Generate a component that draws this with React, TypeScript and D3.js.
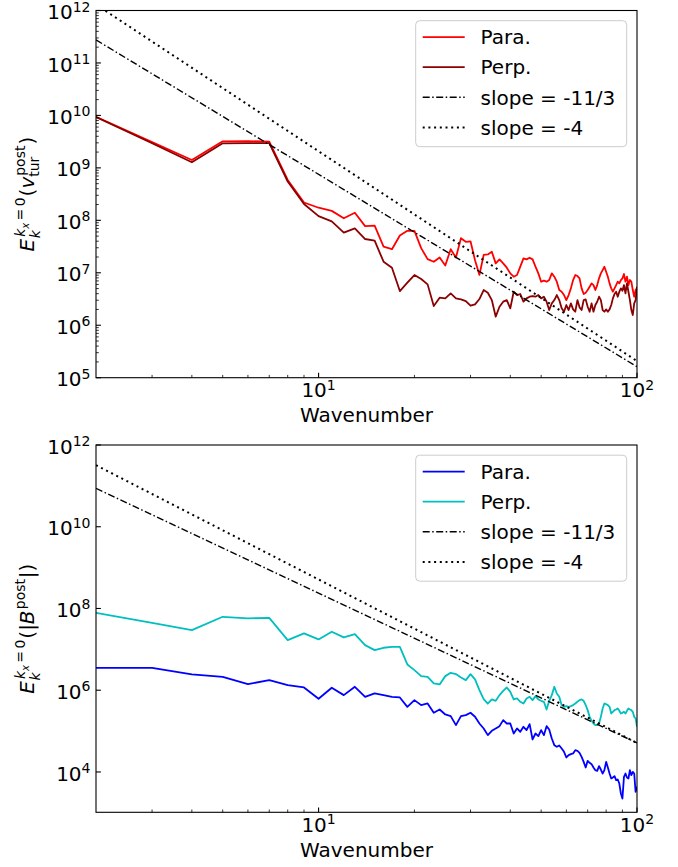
import React from "react";
import * as d3 from "d3";

// ---------------- data ----------------
const wavenumbers: number[] = d3.range(2, 101); // k = 2 .. 100

// log10 of E_k for the velocity spectra (top panel)
const velParaLog = [
  9.975, 9.49, 9.15, 9.506, 9.51, 9.5, 8.77, 8.34, 8.24, 8.18,
  8.04, 8.145, 7.89, 7.9, 7.5, 7.45, 7.71, 7.8, 7.8, 7.47,
  7.26, 7.21, 7.29, 7.14, 7.45, 7.29, 7.66, 7.59, 7.6, 7.24,
  6.96, 7.34, 7.35, 7.4, 7.18, 7.256, 7.18, 7.097, 6.989, 6.925,
  6.957, 7.116, 7.275, 7.256, 7.288, 7.256, 7.116, 6.989, 6.83, 6.849,
  6.83, 6.862, 6.989, 6.925, 6.83, 6.671, 6.639, 6.576, 6.48, 6.576,
  6.703, 6.862, 6.957, 6.938, 6.894, 6.703, 6.595, 6.62, 6.671, 6.735,
  6.798, 6.766, 6.671, 6.766, 6.894, 6.989, 7.052, 7.116, 7.02, 6.925,
  6.798, 6.703, 6.639, 6.703, 6.766, 6.83, 6.798, 6.862, 6.894, 6.976,
  6.83, 6.925, 6.766, 6.862, 6.83, 6.671, 6.544, 6.671, 6.703,
];
const velPerpLog = [
  9.97, 9.47, 9.106, 9.468, 9.47, 9.47, 8.74, 8.31, 8.08, 7.98,
  7.764, 7.847, 7.644, 7.612, 7.211, 7.097, 6.652, 6.811, 6.957, 6.881,
  6.779, 6.366, 6.525, 6.512, 6.608, 6.512, 6.493, 6.461, 6.372, 6.398,
  6.5, 6.671, 6.62, 6.48, 6.163, 6.353, 6.449, 6.48, 6.322, 6.639,
  6.576, 6.595, 6.449, 6.512, 6.544, 6.557, 6.544, 6.576, 6.512, 6.544,
  6.449, 6.29, 6.417, 6.48, 6.576, 6.48, 6.322, 6.258, 6.385, 6.29,
  6.417, 6.302, 6.258, 6.48, 6.341, 6.29, 6.48, 6.493, 6.353, 6.258,
  6.417, 6.258, 6.385, 6.449, 6.544, 6.48, 6.29, 6.258, 6.302, 6.258,
  6.302, 6.385, 6.512, 6.595, 6.639, 6.544, 6.639, 6.703, 6.658, 6.766,
  6.608, 6.798, 6.639, 6.48, 6.29, 6.195, 6.417, 6.48, 6.735,
];

// log10 of E_k for the magnetic spectra (bottom panel)
const magParaLog = [
  6.549, 6.549, 6.386, 6.328, 6.149, 6.247, 6.125, 6.068, 5.79, 6.06,
  5.88, 6.084, 5.839, 5.921, 5.88, 5.839, 5.823, 5.594, 5.758, 5.635,
  5.676, 5.448, 5.529, 5.407, 5.366, 5.146, 5.366, 5.39, 5.448, 5.35,
  5.186, 5.064, 4.901, 5.007, 5.064, 5.121, 5.268, 5.186, 5.186, 4.941,
  5.064, 4.982, 5.105, 5.023, 5.17, 4.795, 4.941, 4.876, 5.023, 4.901,
  5.121, 5.039, 4.819, 4.656, 4.615, 4.648, 4.574, 4.493, 4.354, 4.411,
  4.436, 4.452, 4.533, 4.517, 4.468, 4.37, 4.248, 4.109, 4.272, 4.223,
  4.191, 4.109, 4.044, 4.028, 4.142, 4.06, 3.962, 4.044, 4.248, 4.109,
  3.962, 3.84, 3.864, 3.897, 3.799, 3.815, 3.717, 3.473, 3.35, 3.881,
  3.962, 3.864, 3.84, 4.044, 3.921, 4.003, 3.962, 3.513, 3.636,
];
const magPerpLog = [
  7.895, 7.647, 7.471, 7.797, 7.757, 7.77, 7.226, 7.39, 7.243, 7.43,
  7.292, 7.373, 7.104, 6.982, 7.039, 7.063, 7.063, 6.631, 6.492, 6.345,
  6.329, 6.166, 6.141, 6.345, 6.427, 6.394, 6.313, 6.247, 6.394, 6.264,
  6.003, 5.78, 5.67, 5.774, 5.741, 5.88, 5.986, 6.067, 5.961, 5.774,
  5.798, 5.717, 5.676, 5.798, 5.839, 5.757, 5.855, 5.774, 5.741, 5.717,
  5.529, 5.741, 5.88, 6.084, 5.921, 5.839, 5.635, 5.594, 5.61, 5.594,
  5.61, 5.635, 5.676, 5.717, 5.757, 5.774, 5.741, 5.635, 5.513, 5.349,
  5.251, 5.186, 5.145, 5.145, 5.186, 5.349, 5.553, 5.676, 5.659, 5.635,
  5.594, 5.431, 5.472, 5.513, 5.529, 5.553, 5.496, 5.431, 5.447, 5.472,
  5.431, 5.496, 5.553, 5.529, 5.513, 5.472, 5.349, 5.309, 5.105,
];

// reference power laws
const slopeValues = [-11 / 3, -4];
const refK = [2, 100];
const velRefLogAt100 = [5.21, 5.317];
const magRefLogAt100 = [4.71, 4.71];

const legendLabels = ["Para.", "Perp.", "slope = -11/3", "slope = -4"];
const velColors = ["#ff0000", "#8b0000"];
const magColors = ["#0000ff", "#00bfbf"];

const xDomain = [2, 100];
const xMajorExps = [1, 2];
const velYDomain = [1e5, 1e12];
const magYDomain = [Math.pow(10, 3.013), 1e12];
const velYExps = [5, 6, 7, 8, 9, 10, 11, 12];
const magYExps = [4, 6, 8, 10, 12];

// ---------------- layout ----------------
const W = 678;
const H = 867;
const FONT = "'DejaVu Sans', sans-serif";
const F = 20;
const S = 14;
const SS = 10;
const LEFT = 96;
const RIGHT = 637;

type Piece = { t: string; x: number; dy: number; size: number; it?: boolean };

const velLabel: Piece[] = [
  { t: "E", x: 0, dy: 0, size: F, it: true },
  { t: "k", x: 13.1, dy: 5.5, size: S, it: true },
  { t: "k", x: 14.6, dy: -9, size: S, it: true },
  { t: "x", x: 22.7, dy: -5.5, size: SS, it: true },
  { t: "=", x: 31, dy: -9, size: S },
  { t: "0", x: 45.2, dy: -9, size: S },
  { t: "(", x: 55, dy: 0, size: F },
  { t: "v", x: 62.8, dy: 0, size: F, it: true },
  { t: "post", x: 75.6, dy: -9, size: S },
  { t: "tur", x: 74.6, dy: 5, size: S },
  { t: ")", x: 106.8, dy: 0, size: F },
];
const velLabelW = 114.6;

const magLabel: Piece[] = [
  { t: "E", x: 0, dy: 0, size: F, it: true },
  { t: "k", x: 13.1, dy: 5.5, size: S, it: true },
  { t: "k", x: 14.6, dy: -9, size: S, it: true },
  { t: "x", x: 22.7, dy: -5.5, size: SS, it: true },
  { t: "=", x: 31, dy: -9, size: S },
  { t: "0", x: 45.2, dy: -9, size: S },
  { t: "(", x: 55, dy: 0, size: F },
  { t: "|", x: 62.8, dy: 0, size: F },
  { t: "B", x: 69.5, dy: 0, size: F, it: true },
  { t: "post", x: 84.5, dy: -9, size: S },
  { t: "|", x: 115.5, dy: 0, size: F },
  { t: ")", x: 122.2, dy: 0, size: F },
];
const magLabelW = 130;

const DASHDOT = "7,2.5,1.5,2.5";
const DOTTED = "2,3.7";

function Pow10({ x, y, exp, anchor }: { x: number; y: number; exp: number; anchor: string }) {
  return (
    <text x={x} y={y} textAnchor={anchor} fontFamily={FONT} fontSize={F} fill="#000">
      <tspan>10</tspan>
      <tspan fontSize={S} dy={-7.6}>
        {exp}
      </tspan>
    </text>
  );
}

type PanelProps = {
  id: string;
  top: number;
  bottom: number;
  yDomain: number[];
  yExps: number[];
  yMinor: boolean;
  logs: number[][];
  colors: string[];
  refAt100: number[];
  label: Piece[];
  labelW: number;
};

function Panel(p: PanelProps) {
  const x = d3.scaleLog().domain(xDomain).range([LEFT, RIGHT]);
  const y = d3.scaleLog().domain(p.yDomain).range([p.bottom, p.top]);
  const line = d3
    .line<[number, number]>()
    .x((d) => x(d[0]))
    .y((d) => y(d[1]));

  const dataPaths = p.logs.map((lg) =>
    line(wavenumbers.map((k, i) => [k, Math.pow(10, lg[i])] as [number, number]))
  );
  const refPaths = slopeValues.map((s, j) =>
    line(
      refK.map((k) => [k, Math.pow(10, p.refAt100[j] + s * (Math.log10(k) - 2))] as [number, number])
    )
  );

  const xMinor: number[] = [];
  for (let d = 1; d <= 10; d *= 10) {
    for (let m = 2; m <= 9; m++) {
      const v = m * d;
      if (v > xDomain[0] && v < xDomain[1]) xMinor.push(v);
    }
  }
  const yMinor: number[] = [];
  if (p.yMinor) {
    for (let e = p.yExps[0]; e < p.yExps[p.yExps.length - 1]; e++) {
      for (let m = 2; m <= 9; m++) yMinor.push(m * Math.pow(10, e));
    }
  }

  const legTop = p.top + 10.2;
  const legLeft = 415.7;
  const cy = (p.top + p.bottom) / 2;
  const styles = [
    { color: p.colors[0], dash: undefined, w: 1.8 },
    { color: p.colors[1], dash: undefined, w: 1.8 },
    { color: "#000", dash: DASHDOT, w: 1.4 },
    { color: "#000", dash: DOTTED, w: 2 },
  ];

  return (
    <g>
      <defs>
        <clipPath id={`clip-${p.id}`}>
          <rect x={LEFT} y={p.top} width={RIGHT - LEFT} height={p.bottom - p.top} />
        </clipPath>
      </defs>
      <g clipPath={`url(#clip-${p.id})`}>
        {dataPaths.map((d, i) => (
          <path key={`d${i}`} d={d || ""} fill="none" stroke={p.colors[i]} strokeWidth={1.8} strokeLinejoin="round" />
        ))}
        <path d={refPaths[0] || ""} fill="none" stroke="#000" strokeWidth={1.4} strokeDasharray={DASHDOT} />
        <path d={refPaths[1] || ""} fill="none" stroke="#000" strokeWidth={2} strokeDasharray={DOTTED} />
      </g>

      {/* ticks (inward) */}
      {xMinor.map((v) => (
        <line key={`xm${v}`} x1={x(v)} x2={x(v)} y1={p.bottom} y2={p.bottom - 2.8} stroke="#000" strokeWidth={0.8} />
      ))}
      {xMajorExps.map((e) => (
        <line key={`xM${e}`} x1={x(Math.pow(10, e))} x2={x(Math.pow(10, e))} y1={p.bottom} y2={p.bottom - 4.9} stroke="#000" strokeWidth={1.1} />
      ))}
      {yMinor.map((v) => (
        <line key={`ym${v}`} x1={LEFT} x2={LEFT + 2.8} y1={y(v)} y2={y(v)} stroke="#000" strokeWidth={0.8} />
      ))}
      {p.yExps.map((e) => (
        <line key={`yM${e}`} x1={LEFT} x2={LEFT + 4.9} y1={y(Math.pow(10, e))} y2={y(Math.pow(10, e))} stroke="#000" strokeWidth={1.1} />
      ))}

      {/* frame */}
      <rect x={LEFT} y={p.top} width={RIGHT - LEFT} height={p.bottom - p.top} fill="none" stroke="#000" strokeWidth={1.1} />

      {/* tick labels */}
      {xMajorExps.map((e) => (
        <Pow10 key={`xl${e}`} x={x(Math.pow(10, e))} y={p.bottom + 19.4} exp={e} anchor="middle" />
      ))}
      {p.yExps.map((e) => (
        <Pow10 key={`yl${e}`} x={90.5} y={y(Math.pow(10, e)) + 8.6} exp={e} anchor="end" />
      ))}

      {/* axis labels */}
      <text x={(LEFT + RIGHT) / 2} y={p.bottom + 44.4} textAnchor="middle" fontFamily={FONT} fontSize={F} fill="#000">
        Wavenumber
      </text>
      <g transform={`translate(34,${cy}) rotate(-90)`}>
        <text fontFamily={FONT} fill="#000">
          {p.label.map((pc, i) => (
            <tspan key={i} x={pc.x - p.labelW / 2} y={pc.dy} fontSize={pc.size} fontStyle={pc.it ? "italic" : "normal"}>
              {pc.t}
            </tspan>
          ))}
        </text>
      </g>

      {/* legend */}
      <rect x={legLeft} y={legTop} width={211} height={126} rx={4} ry={4} fill="#fff" fillOpacity={0.8} stroke="#cccccc" strokeWidth={1} />
      {legendLabels.map((lab, i) => {
        const ly = legTop + 16.4 + i * 30.1;
        const st = styles[i];
        return (
          <g key={lab}>
            <line x1={422.7} x2={464.7} y1={ly} y2={ly} stroke={st.color} strokeWidth={st.w} strokeDasharray={st.dash} />
            <text x={480.5} y={ly + 7.2} fontFamily={FONT} fontSize={F} fill="#000">
              {lab}
            </text>
          </g>
        );
      })}
    </g>
  );
}

export default function App() {
  return (
    <svg
      width={W}
      height={H}
      viewBox={`0 0 ${W} ${H}`}
      style={{ position: "absolute", left: 0, top: 0, background: "#fff" }}
    >
      <rect x={0} y={0} width={W} height={H} fill="#fff" />
      <Panel
        id="vel"
        top={10.5}
        bottom={377.7}
        yDomain={velYDomain}
        yExps={velYExps}
        yMinor={true}
        logs={[velParaLog, velPerpLog]}
        colors={velColors}
        refAt100={velRefLogAt100}
        label={velLabel}
        labelW={velLabelW}
      />
      <Panel
        id="mag"
        top={445}
        bottom={812.3}
        yDomain={magYDomain}
        yExps={magYExps}
        yMinor={false}
        logs={[magParaLog, magPerpLog]}
        colors={magColors}
        refAt100={magRefLogAt100}
        label={magLabel}
        labelW={magLabelW}
      />
    </svg>
  );
}
